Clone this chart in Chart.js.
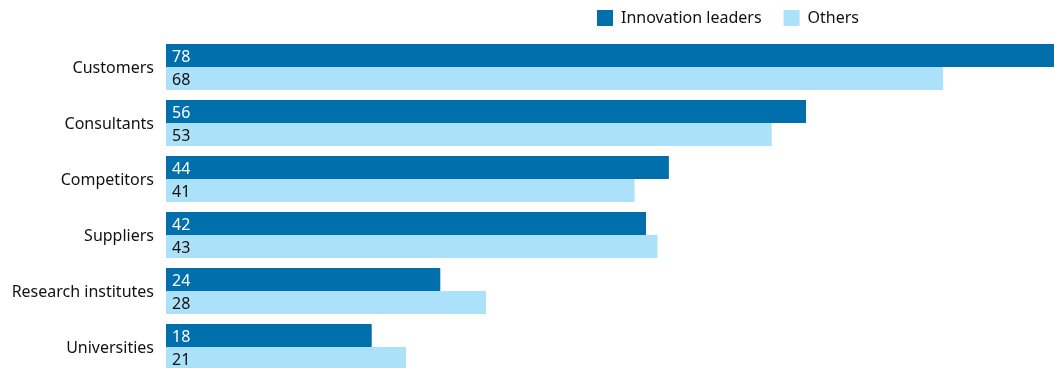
<!DOCTYPE html>
<html>
<head>
<meta charset="utf-8">
<script src="https://cdn.jsdelivr.net/npm/chart.js@4/dist/chart.umd.min.js"></script>
<style>
  html, body { margin: 0; padding: 0; background: #fff; overflow: hidden; }
  #wrap { width: 1054px; height: 368px; overflow: hidden; }
  canvas { display: block; }
</style>
</head>
<body>
<div id="wrap"><canvas id="c" width="1054" height="375"></canvas></div>
<script>
// Sources of innovation ideas, share of firms (%)
const categories = ['Customers', 'Consultants', 'Competitors', 'Suppliers', 'Research institutes', 'Universities'];
const innovationLeaders = [78, 56, 44, 42, 24, 18];
const others = [68, 53, 41, 43, 28, 21];
const seriesNames = ['Innovation leaders', 'Others'];

const DARK = '#006fac';
const LIGHT = '#abe1f9';
const FONT = "'Noto Sans', sans-serif";

// Writes each bar's value just inside its left end
const valueLabels = {
  id: 'valueLabels',
  afterDatasetsDraw(chart) {
    const ctx = chart.ctx;
    ctx.save();
    ctx.font = '16px ' + FONT;
    ctx.textBaseline = 'middle';
    ctx.textAlign = 'left';
    chart.data.datasets.forEach((ds, di) => {
      const meta = chart.getDatasetMeta(di);
      meta.data.forEach((bar, i) => {
        ctx.fillStyle = di === 0 ? '#ffffff' : '#111111';
        ctx.fillText(String(ds.data[i]), bar.base + 6, bar.y + 1.5);
      });
    });
    ctx.restore();
  }
};

// Places the legend above the right half of the plot
const legendPlacement = {
  id: 'legendPlacement',
  afterLayout(chart) {
    const lg = chart.legend;
    if (!lg) return;
    const pad = lg.options.labels.padding;
    const dx = (597 - pad) - lg.left;
    lg.left += dx;
    lg.right += dx;
    lg.top -= (pad - 10);
  }
};

new Chart(document.getElementById('c'), {
  type: 'bar',
  data: {
    labels: categories,
    datasets: [
      { label: seriesNames[0], data: innovationLeaders, backgroundColor: DARK, borderWidth: 0 },
      { label: seriesNames[1], data: others, backgroundColor: LIGHT, borderWidth: 0 }
    ]
  },
  options: {
    indexAxis: 'y',
    responsive: false,
    animation: false,
    devicePixelRatio: 1,
    layout: { padding: 0 },
    datasets: {
      bar: { categoryPercentage: 46 / 56, barPercentage: 1.0 }
    },
    scales: {
      x: {
        display: false,
        min: 0,
        max: 77.7
      },
      y: {
        grid: { display: false, drawTicks: false },
        border: { display: false },
        ticks: {
          color: '#111111',
          font: { family: FONT, size: 16 },
          padding: 12,
          labelOffset: 1
        },
        afterFit(scale) {
          scale.width = 166;
          scale.paddingTop = 0;
          scale.paddingBottom = 0;
        }
      }
    },
    plugins: {
      legend: {
        position: 'top',
        align: 'start',
        maxHeight: 39,
        labels: {
          boxWidth: 16,
          boxHeight: 16,
          padding: 22,
          color: '#111111',
          font: { family: FONT, size: 16 }
        }
      },
      tooltip: { enabled: false }
    }
  },
  plugins: [valueLabels, legendPlacement]
});
</script>
</body>
</html>
